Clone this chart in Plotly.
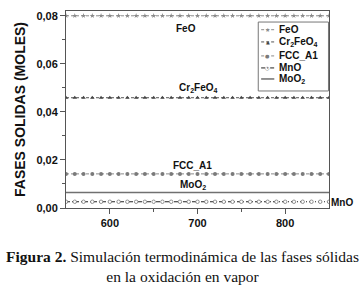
import plotly.graph_objects as go

# Data
temperature = list(range(550, 851, 10))
feo = [0.0800] * len(temperature)
cr2feo4 = [0.0459] * len(temperature)
fcc_a1 = [0.0142] * len(temperature)
mno = [0.0026] * len(temperature)
moo2 = [0.0064] * len(temperature)

series_names = ["FeO", "Cr<sub>2</sub>FeO<sub>4</sub>", "FCC_A1", "MnO", "MoO<sub>2</sub>"]

# legend styles: (line color, dash, marker glyph, glyph color, glyph size)
styles = [
    ("#8a8a8a", "3px,2px", "★", "#8a8a8a", 6),
    ("#555555", "3px,2px", "▲", "#444444", 5),
    ("#8a8a8a", "3px,2px", "●", "#7a7a7a", 5),
    ("#222222", "4px,2px,1px,2px", "○", "#777777", 5),
    ("#707070", "solid", "", "#707070", 5),
]

fig = go.Figure()

fig.add_trace(go.Scatter(x=temperature, y=feo, name=series_names[0], mode="lines+markers",
                         line=dict(color="#8a8a8a", width=1, dash="3px,2px"),
                         marker=dict(symbol="star", size=4, color="#8a8a8a")))
fig.add_trace(go.Scatter(x=temperature, y=cr2feo4, name=series_names[1], mode="lines+markers",
                         line=dict(color="#555555", width=1, dash="3px,2px"),
                         marker=dict(symbol="triangle-up", size=4, color="#444444")))
fig.add_trace(go.Scatter(x=temperature, y=fcc_a1, name=series_names[2], mode="lines+markers",
                         line=dict(color="#8a8a8a", width=1, dash="3px,2px"),
                         marker=dict(symbol="circle", size=4, color="#7a7a7a")))
fig.add_trace(go.Scatter(x=temperature, y=mno, name=series_names[3], mode="lines+markers",
                         line=dict(color="#222222", width=1, dash="4px,2px,1px,2px"),
                         marker=dict(symbol="circle", size=3.5, color="white",
                                     line=dict(color="#777777", width=0.8))))
fig.add_trace(go.Scatter(x=temperature, y=moo2, name=series_names[4], mode="lines",
                         line=dict(color="#707070", width=1.5)))

lab_font = dict(family="Liberation Sans, Arial", size=10, color="#111", weight="bold")
labels = [
    ("FeO", "x", 687, 0.0749),
    ("Cr<sub>2</sub>FeO<sub>4</sub>", "x", 701, 0.0500),
    ("FCC_A1", "x", 694, 0.0175),
    ("MoO<sub>2</sub>", "x", 695, 0.0094),
    ("MnO", "paper", 1.05, 0.0021),
]
for txt, xr, lx, ly in labels:
    fig.add_annotation(x=lx, y=ly, xref=xr, yref="y", text=txt, showarrow=False,
                       xanchor="center", yanchor="middle", font=lab_font)

# Compact legend box (drawn as layout decoration)
fig.add_shape(type="rect", xref="paper", yref="paper", x0=0.731, x1=0.998, y0=0.594, y1=0.944,
              line=dict(color="#777777", width=1), fillcolor="white", layer="above")
entry_y = [0.905, 0.843, 0.772, 0.711, 0.655]
for name, (lc, dash, glyph, gc, gs), ey in zip(series_names, styles, entry_y):
    fig.add_shape(type="line", xref="paper", yref="paper", x0=0.742, x1=0.792, y0=ey, y1=ey,
                  line=dict(color=lc, width=1 if dash != "solid" else 1.5, dash=dash), layer="above")
    if glyph:
        fig.add_annotation(x=0.767, y=ey, xref="paper", yref="paper", text=glyph, showarrow=False,
                           xanchor="center", yanchor="middle",
                           font=dict(family="DejaVu Sans", size=gs, color=gc), borderpad=0)
    fig.add_annotation(x=0.803, y=ey, xref="paper", yref="paper", text=name, showarrow=False,
                       xanchor="left", yanchor="middle",
                       font=dict(family="Liberation Sans, Arial", size=10, color="#111", weight="bold"))

fig.add_annotation(x=0.443, y=-0.195, xref="paper", yref="paper", xanchor="center", yanchor="top",
                   text="<b>Figura 2.</b> Simulación termodinámica de las fases sólidas<br>en la oxidación en vapor",
                   showarrow=False, align="center",
                   font=dict(family="Liberation Serif, Times New Roman", size=15.5, color="#111"))

axis_common = dict(showline=True, linecolor="#555555", linewidth=1, mirror=True,
                   ticks="outside", ticklen=5, tickcolor="#555555", showgrid=False,
                   zeroline=False,
                   tickfont=dict(family="Liberation Sans, Arial", size=11, color="#111", weight="bold"))

fig.update_layout(
    width=361, height=287,
    margin=dict(l=66, r=32, t=11, b=79),
    paper_bgcolor="white", plot_bgcolor="white",
    separators=",.",
    showlegend=False,
    xaxis=dict(range=[550, 850], tickvals=[600, 700, 800],
               minor=dict(tickvals=[650, 750], ticks="outside", ticklen=3, tickcolor="#555555"),
               **axis_common),
    yaxis=dict(range=[0, 0.082], tickvals=[0, 0.02, 0.04, 0.06, 0.08], tickformat=".2f",
               minor=dict(tickvals=[0.01, 0.03, 0.05, 0.07], ticks="outside", ticklen=3, tickcolor="#555555"),
               title=dict(text="FASES SOLIDAS (MOLES)", standoff=7,
                          font=dict(family="Liberation Sans, Arial", size=14, color="#111", weight="bold")),
               **axis_common),
)

fig.write_html("out.html", config={"displayModeBar": False},
               post_script="document.body.style.margin='0';")
